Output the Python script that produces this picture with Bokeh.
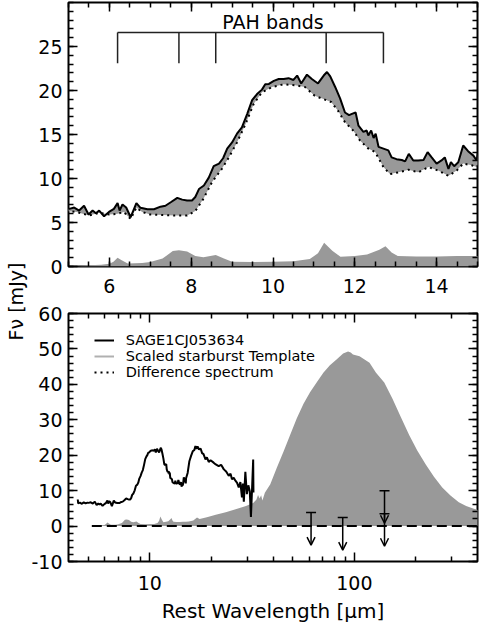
import math
from bokeh.plotting import figure
from bokeh.models import (Range1d, FixedTicker, LinearAxis, LogAxis, Label, Legend,
                          LegendItem, Arrow, OpenHead, ColumnDataSource, BasicTickFormatter,
                          PrintfTickFormatter)
from bokeh.layouts import row, column
from bokeh.embed import file_html
from bokeh.resources import INLINE

FONT = "DejaVu Sans"
GRAY = "#999999"

# ---------------- data ----------------
# observed IRS spectrum of SAGE1CJ053634 (rest wavelength in micron, flux in mJy)
obs_wl = [4.44, 4.46, 4.55, 4.65, 4.75, 4.85, 4.95, 5.02, 5.14, 5.26,
          5.38, 5.49, 5.59, 5.67, 5.75, 5.87, 5.99, 6.11, 6.2, 6.25,
          6.32, 6.41, 6.52, 6.66, 6.76, 6.93, 7.09, 7.25, 7.37, 7.5,
          7.66, 7.78, 7.9, 8.02, 8.1, 8.19, 8.31, 8.43, 8.55, 8.68,
          8.78, 8.88, 9.0, 9.12, 9.24, 9.37, 9.49, 9.61, 9.73, 9.81,
          9.9, 10.02, 10.14, 10.26, 10.38, 10.5, 10.59, 10.69, 10.83, 10.95,
          11.1, 11.24, 11.32, 11.4, 11.52, 11.64, 11.76, 11.86, 11.93, 12.02,
          12.09, 12.21, 12.29, 12.33, 12.4, 12.46, 12.51, 12.58, 12.7, 12.82,
          12.9, 13.02, 13.15, 13.23, 13.32, 13.43, 13.55, 13.68, 13.78, 13.88,
          14.0, 14.12, 14.2, 14.29, 14.35, 14.43, 14.53, 14.65, 14.77, 14.9,
          14.98, 15.03, 15.3, 15.6, 15.9, 16.2, 16.5, 16.7, 16.9, 17.1,
          17.4, 17.7, 18.0, 18.3, 18.7, 19.0, 19.4, 19.8, 20.5, 21.0,
          21.7, 22.3, 23.0, 23.6, 24.3, 24.8, 25.2, 25.7, 26.2, 26.7,
          27.2, 27.7, 28.2, 28.5, 28.8, 29.3, 29.8, 30.3, 30.8, 31.2,
          31.6, 32.0, 32.1]
obs_flux = [7.5, 6.4, 6.6, 6.3, 6.7, 6.4, 6.6, 6.55, 6.7, 6.36,
            6.9, 5.9, 6.36, 6.06, 6.36, 5.7, 6.2, 6.55, 7.2, 6.36,
            7.05, 6.7, 5.6, 7.2, 6.67, 6.5, 6.5, 6.8, 6.9, 7.3,
            7.8, 7.6, 7.5, 7.5, 7.9, 8.8, 9.2, 10.1, 11.4, 11.7,
            12.3, 13.4, 14.1, 15.1, 15.8, 17.35, 18.9, 19.6, 20.1, 20.7,
            20.75, 21.1, 21.3, 21.3, 21.4, 21.2, 21.7, 20.8, 21.8, 21.3,
            20.8, 21.7, 22.1, 21.6, 20.4, 19.1, 17.5, 17.2, 17.35, 17.5,
            16.0, 15.3, 15.45, 14.9, 15.45, 14.6, 15.1, 13.6, 13.4, 13.2,
            12.4, 12.2, 12.1, 11.95, 12.8, 12.05, 12.05, 12.1, 13.0, 12.4,
            11.7, 12.05, 12.4, 11.1, 11.85, 11.4, 11.85, 13.75, 13.1, 12.6,
            12.05, 13.5, 15.0, 18.3, 19.8, 21.1, 21.5, 22.6, 21.8, 22.5,
            21.6, 21.9, 20.6, 20.3, 18.8, 19.4, 18.1, 18.6, 17.9, 17.4,
            16.9, 17.3, 16.0, 15.4, 14.2, 14.8, 13.2, 13.6, 12.8, 12.2,
            10.9, 12.4, 8.1, 12.0, 6.9, 15.3, 9.0, 11.5, 9.8, 2.6,
            10.5, 18.8, 9.5]

# difference spectrum (observed minus scaled template), shown in the top panel
diff_wl = [4.95, 5.2, 5.5, 5.75, 6.0, 6.2, 6.35, 6.52, 6.66, 6.8,
           7.0, 7.3, 7.6, 7.9, 8.1, 8.3, 8.51, 8.75, 8.92, 9.12,
           9.33, 9.53, 9.73, 9.98, 10.26, 10.54, 10.78, 11.02, 11.22, 11.42,
           11.59, 11.76, 11.96, 12.13, 12.33, 12.5, 12.7, 12.86, 13.07, 13.31,
           13.55, 13.8, 14.04, 14.29, 14.49, 14.65, 14.86, 14.98, 15.05]
diff_flux = [6.3, 6.2, 5.8, 6.1, 5.9, 6.0, 6.2, 5.4, 6.7, 6.2,
             5.9, 5.85, 5.8, 5.8, 6.3, 7.7, 9.6, 11.1, 12.4, 14.1,
             16.2, 18.5, 19.8, 20.4, 20.7, 20.6, 20.4, 19.4, 19.05, 18.7,
             17.7, 16.4, 15.45, 14.3, 13.4, 13.0, 11.3, 10.5, 10.7, 11.0,
             10.7, 11.3, 10.9, 10.3, 10.9, 11.7, 11.5, 11.3, 11.8]

# scaled starburst template
tmpl_wl = [5.2, 5.5, 5.8, 6.0, 6.1, 6.2, 6.3, 6.45, 6.8, 7.0,
           7.3, 7.55, 7.7, 7.9, 8.1, 8.3, 8.6, 8.8, 9.0, 9.5,
           10.0, 10.5, 10.9, 11.1, 11.25, 11.45, 11.65, 12.0, 12.3, 12.6,
           12.75, 12.9, 13.05, 13.5, 14.0, 14.5, 15.0, 15.5, 16.3, 17.0,
           17.5, 19.0, 21.0, 23.5, 26.5, 29.5, 32.0, 33.2, 33.8, 34.4,
           35.0, 35.5, 36.5, 38.8, 41.8, 45.1, 48.5, 52.3, 56.4, 60.7,
           65.5, 70.5, 75.9, 81.8, 88.1, 93.1, 96.0, 98.4, 106.0, 118.6,
           127.6, 140.0, 153.8, 168.0, 185.3, 203.0, 223.4, 245.0, 269.0, 295.0,
           324.0, 352.0, 384.0, 420.0]
tmpl_flux = [0.0, 0.15, 0.2, 0.3, 0.55, 1.0, 0.7, 0.35, 0.4, 0.5,
             0.9, 1.75, 1.85, 1.7, 1.2, 1.05, 1.3, 0.9, 0.55, 0.5,
             0.55, 0.6, 0.85, 1.5, 2.7, 1.8, 1.1, 1.2, 1.35, 1.9,
             2.3, 1.6, 1.2, 1.15, 1.15, 1.2, 1.2, 1.3, 1.6, 2.4,
             2.0, 2.5, 3.2, 3.9, 4.8, 5.7, 6.5, 7.5, 8.8, 7.8,
             8.7, 7.2, 9.4, 11.8, 16.5, 21.1, 25.7, 30.4, 34.5, 37.8,
             40.6, 43.3, 45.4, 47.0, 48.7, 49.3, 49.0, 48.4, 47.9, 46.1,
             43.3, 40.5, 35.9, 31.0, 25.7, 21.3, 17.4, 13.9, 10.9, 8.6,
             6.75, 5.7, 4.9, 4.2]

# far-IR upper limits (rest wavelength, limit in mJy)
ul_wl = [61.4, 87.7, 140.4, 140.4]
ul_flux = [3.8, 2.4, 10.0, 3.5]
UL_ARROW = 9.2  # arrow length in mJy

# PAH band positions marked in the top panel
pah_wl = [6.2, 7.7, 8.6, 11.3, 12.7]
pah_bar_top = 26.6
pah_bar_bottom = 23.1

# ticks
top_xticks = [6, 8, 10, 12, 14]
top_xminor = [5 + 0.5 * i for i in range(21)]
top_yticks = [0, 5, 10, 15, 20, 25]
top_yminor = list(range(0, 31))
bot_xticks = [10, 100]
bot_xminor = [5, 6, 7, 8, 9, 20, 30, 40, 50, 60, 70, 80, 90, 200, 300]
bot_yticks = [-10, 0, 10, 20, 30, 40, 50, 60]
bot_yminor = list(range(-10, 61, 2))

legend_labels = ["SAGE1CJ053634", "Scaled starburst Template", "Difference spectrum"]
y_title = "F\u03bd [mJy]"
x_title = "Rest Wavelength [\u03bcm]"


# ---------------- helpers ----------------
def frame_style(p):
    p.outline_line_color = "black"
    p.outline_line_width = 2
    p.outline_line_alpha = 1.0
    p.background_fill_color = "white"
    p.border_fill_color = "white"
    p.xgrid.visible = False
    p.ygrid.visible = False


def tick_style(ax, ticks, minor, show_labels, standoff=6):
    ax.ticker = FixedTicker(ticks=ticks, minor_ticks=minor)
    ax.axis_line_color = None
    ax.major_tick_in = 9
    ax.major_tick_out = 0
    ax.minor_tick_in = 5
    ax.minor_tick_out = 0
    ax.major_tick_line_color = "black"
    ax.minor_tick_line_color = "black"
    ax.major_tick_line_width = 1.5
    ax.minor_tick_line_width = 1.5
    if show_labels:
        ax.major_label_text_font = FONT
        ax.major_label_text_font_size = "19px"
        ax.major_label_text_color = "black"
        ax.major_label_standoff = standoff
    else:
        ax.major_label_text_font_size = "1px"
        ax.major_label_text_color = None
        ax.major_label_standoff = 0


LAB_W = 28
PLOT_W = 480 - LAB_W
H1 = 302
H2 = 323
BORDER_L = 66 - LAB_W

# ---------------- top panel ----------------
p1 = figure(width=PLOT_W, height=H1, x_range=Range1d(5, 15), y_range=Range1d(0, 30),
            toolbar_location=None, output_backend="svg",
            min_border_left=BORDER_L, min_border_right=3, min_border_top=2, min_border_bottom=36)
p1.title.visible = False
frame_style(p1)
tick_style(p1.xaxis[0], top_xticks, top_xminor, True, standoff=12)
tick_style(p1.yaxis[0], top_yticks, top_yminor, True, standoff=6)
p1.yaxis[0].formatter = PrintfTickFormatter(format="%d")
ax_top = LinearAxis()
tick_style(ax_top, top_xticks, top_xminor, False)
p1.add_layout(ax_top, "above")
ax_right = LinearAxis()
tick_style(ax_right, top_yticks, top_yminor, False)
p1.add_layout(ax_right, "right")

# template at the bottom
p1.varea(x=tmpl_wl, y1=0, y2=tmpl_flux, fill_color=GRAY, fill_alpha=1.0)
# band between observed and difference spectrum
band_obs = [(w, f) for w, f in zip(obs_wl, obs_flux) if diff_wl[0] <= w <= diff_wl[-1]]
band_x = [w for w, _ in band_obs] + diff_wl[::-1]
band_y = [f for _, f in band_obs] + diff_flux[::-1]
p1.patch(band_x, band_y, fill_color=GRAY, fill_alpha=1.0, line_color=None)
p1.line(diff_wl, diff_flux, line_color="black", line_width=2, line_dash="2 4")
p1.line(obs_wl, obs_flux, line_color="black", line_width=2)

# PAH band markers
p1.line([min(pah_wl), max(pah_wl)], [pah_bar_top, pah_bar_top], line_color="#222222", line_width=1.5)
p1.segment(x0=pah_wl, y0=[pah_bar_bottom] * len(pah_wl), x1=pah_wl, y1=[pah_bar_top] * len(pah_wl),
           line_color="#222222", line_width=1.5)
p1.add_layout(Label(x=10.0, y=27.76, text="PAH bands", text_align="center",
                    text_baseline="middle", text_font=FONT, text_font_size="19px",
                    text_color="black"))

# ---------------- bottom panel ----------------
p2 = figure(width=PLOT_W, height=H2, x_axis_type="log", x_range=Range1d(4, 400),
            y_range=Range1d(-10, 60), toolbar_location=None, output_backend="svg",
            min_border_left=BORDER_L, min_border_right=3, min_border_top=11, min_border_bottom=60)
p2.title.visible = False
frame_style(p2)
xb = p2.xaxis[0]
tick_style(xb, bot_xticks, bot_xminor, True, standoff=14)
xb.formatter = BasicTickFormatter()
xb.axis_label = x_title
xb.axis_label_text_font = FONT
xb.axis_label_text_font_size = "20px"
xb.axis_label_text_font_style = "normal"
xb.axis_label_text_color = "black"
xb.axis_label_standoff = 6
tick_style(p2.yaxis[0], bot_yticks, bot_yminor, True, standoff=6)
p2.yaxis[0].formatter = PrintfTickFormatter(format="%d")
ax_top2 = LogAxis()
tick_style(ax_top2, bot_xticks, bot_xminor, False)
p2.add_layout(ax_top2, "above")
ax_right2 = LinearAxis()
tick_style(ax_right2, bot_yticks, bot_yminor, False)
p2.add_layout(ax_right2, "right")

p2.varea(x=tmpl_wl, y1=0, y2=tmpl_flux, fill_color=GRAY, fill_alpha=1.0)
p2.line([tmpl_wl[0], tmpl_wl[-1]], [0, 0], line_color="black", line_width=2, line_dash="10 5")
r_obs = p2.line(obs_wl, obs_flux, line_color="black", line_width=2)

ul_src = ColumnDataSource(dict(x=ul_wl, y0=ul_flux, y1=[f - UL_ARROW for f in ul_flux]))
p2.add_layout(Arrow(end=OpenHead(size=8, line_width=1.5, line_color="black"),
                    source=ul_src, x_start="x", y_start="y0", x_end="x", y_end="y1",
                    line_width=1.5, line_color="black"))
p2.scatter(x=ul_wl, y=ul_flux, marker="dash", size=10, line_width=1.5, line_color="black")

# legend proxies (placed outside the visible range so they only show in the legend)
r_tmpl_leg = p2.line(x=[1000, 2000], y=[100, 100], line_color="#b0b0b0", line_width=2)
r_diff_leg = p2.line(x=[1000, 2000], y=[100, 100], line_color="black", line_width=2, line_dash="2 4")
legend = Legend(items=[LegendItem(label=legend_labels[0], renderers=[r_obs]),
                       LegendItem(label=legend_labels[1], renderers=[r_tmpl_leg]),
                       LegendItem(label=legend_labels[2], renderers=[r_diff_leg])],
                location=(25.7, 181.5), padding=0, margin=0, spacing=-3,
                glyph_width=20, glyph_height=14, label_height=14, label_standoff=12,
                label_text_font=FONT, label_text_font_size="14.5px", label_text_color="black",
                background_fill_alpha=0, border_line_color=None)
p2.add_layout(legend)

# ---------------- shared y title: axis label of a narrow strip ----------------
LAB_H = H1 + H2
lab = figure(width=LAB_W, height=LAB_H, x_range=Range1d(0, 1), y_range=Range1d(0, 1),
             toolbar_location=None, output_backend="svg", x_axis_type=None,
             min_border_left=LAB_W - 2, min_border_right=0, min_border_top=201,
             min_border_bottom=LAB_H - 401)
lab.title.visible = False
lab.outline_line_color = None
lab.background_fill_color = "white"
lab.border_fill_color = "white"
lab.grid.visible = False
ya = lab.yaxis[0]
ya.axis_line_color = None
ya.major_tick_line_color = None
ya.minor_tick_line_color = None
ya.major_tick_in = 0
ya.major_tick_out = 0
ya.minor_tick_in = 0
ya.minor_tick_out = 0
ya.major_label_text_font_size = "1px"
ya.major_label_text_color = None
ya.major_label_standoff = 0
ya.axis_label = y_title
ya.axis_label_text_font = FONT
ya.axis_label_text_font_size = "19px"
ya.axis_label_text_font_style = "normal"
ya.axis_label_text_color = "black"
ya.axis_label_standoff = 0

layout = row(lab, column(p1, p2))
open("out.html", "w").write(file_html(layout, INLINE, "plot"))
